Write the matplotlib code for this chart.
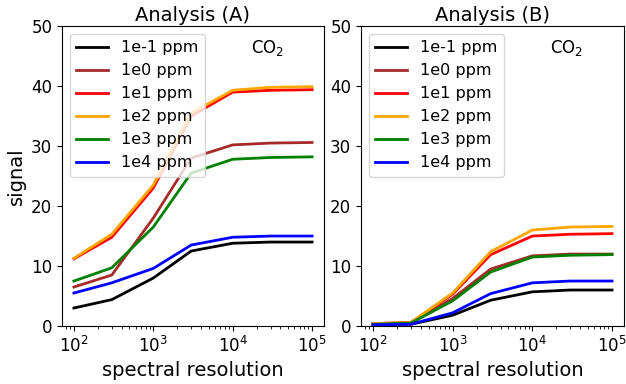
import numpy as np
import matplotlib
matplotlib.use('Agg')
import matplotlib.pyplot as plt

resolution = [1e2, 3e2, 1e3, 3e3, 1e4, 3e4, 1e5]
labels = ['1e-1 ppm', '1e0 ppm', '1e1 ppm', '1e2 ppm', '1e3 ppm', '1e4 ppm']
colors = ['black', 'brown', 'red', 'orange', 'green', 'blue']

signal_a = [
    [3.0, 4.4, 8.0, 12.5, 13.8, 14.0, 14.0],
    [6.5, 8.5, 18.0, 28.0, 30.2, 30.5, 30.6],
    [11.2, 14.8, 23.0, 35.0, 39.0, 39.3, 39.4],
    [11.3, 15.3, 23.5, 35.5, 39.3, 39.8, 39.9],
    [7.5, 9.7, 16.5, 25.5, 27.8, 28.1, 28.2],
    [5.5, 7.2, 9.6, 13.5, 14.8, 15.0, 15.0],
]
signal_b = [
    [0.2, 0.3, 1.8, 4.3, 5.7, 6.0, 6.0],
    [0.3, 0.5, 4.6, 9.5, 11.7, 12.0, 12.0],
    [0.4, 0.6, 5.3, 11.9, 15.0, 15.3, 15.4],
    [0.4, 0.6, 5.5, 12.4, 16.0, 16.5, 16.6],
    [0.3, 0.5, 4.2, 9.0, 11.5, 11.8, 11.9],
    [0.2, 0.3, 2.2, 5.4, 7.2, 7.5, 7.5],
]


def main():
    fig = plt.figure(figsize=(6.26, 3.84), dpi=100)
    # panel positions matched to the reference by eye
    ax_a = fig.add_axes([62/626, 0.151, 262/626, 0.781])
    ax_b = fig.add_axes([361/626, 0.151, 263/626, 0.781])

    for ax, data, title in zip([ax_a, ax_b], [signal_a, signal_b], ['Analysis (A)', 'Analysis (B)']):
        for y, lab, c in zip(data, labels, colors):
            ax.plot(resolution, y, color=c, lw=2, label=lab)
        ax.set_xscale('log')
        ax.set_ylim(0, 50)
        ax.set_title(title, fontsize=14, pad=4)
        ax.set_xlabel('spectral resolution', fontsize=14)
        ax.tick_params(labelsize=12)
        ax.legend(loc='upper left', fontsize=11.5)
        ax.text(0.72, 0.91, 'CO$_2$', transform=ax.transAxes, fontsize=12)

    ax_a.set_ylabel('signal', fontsize=14)

    plt.savefig('out.png', dpi=100)


if __name__ == '__main__':
    main()
